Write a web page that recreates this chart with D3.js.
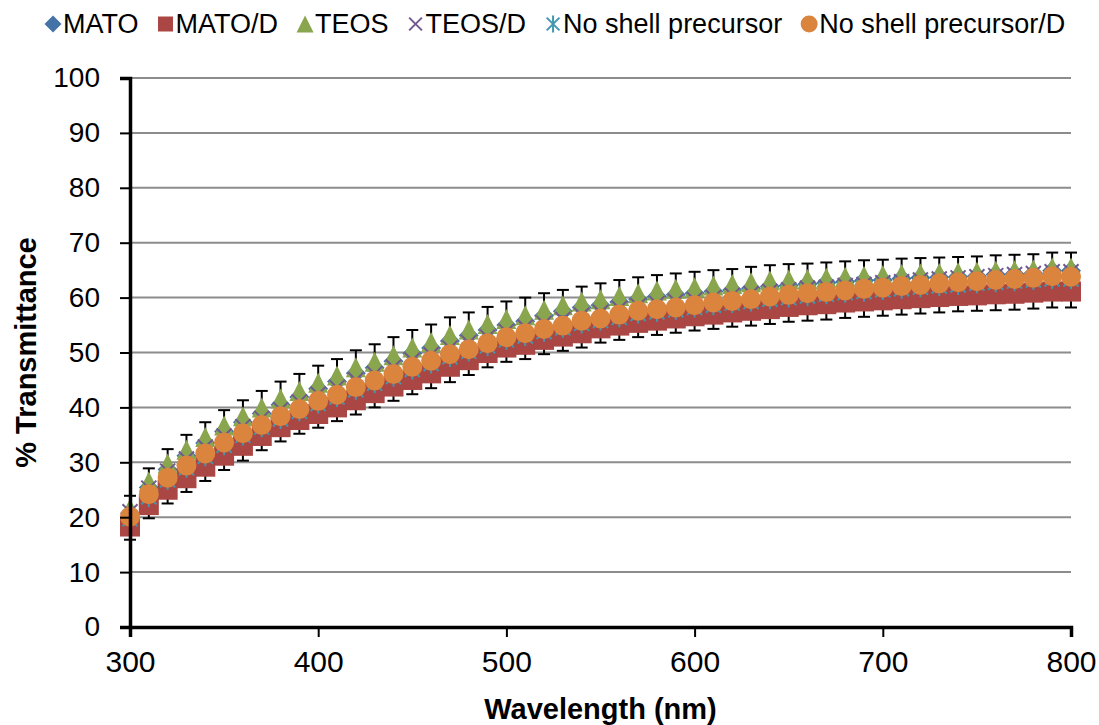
<!DOCTYPE html>
<html>
<head>
<meta charset="utf-8">
<script src="https://cdn.jsdelivr.net/npm/d3@7"></script>
<style>
  body { margin: 0; background: #fff; }
  svg { font-family: "Liberation Sans", Arial, sans-serif; }
</style>
</head>
<body>
<div id="chart"></div>
<script>
// wavelength (nm), one reading every 10 nm
const wavelengths = d3.range(300, 801, 10);

const mato = [20.7, 25.4, 28.7, 31.2, 33.5, 35.6, 37.3, 38.9, 40.5, 41.9, 43.4, 44.7, 46.2, 47.2, 48.4, 49.8, 50.8, 52.1, 53.1, 54.1, 55.0, 55.7, 56.7, 57.5, 58.2, 58.6, 59.2, 59.7, 60.2, 60.5, 60.8, 61.1, 61.4, 61.7, 62.0, 62.2, 62.5, 62.7, 62.9, 63.1, 63.2, 63.5, 63.6, 63.7, 63.8, 63.9, 64.2, 64.3, 64.4, 64.9, 64.9];
const matoD = [18.3, 22.2, 25.0, 27.1, 29.2, 31.2, 33.0, 34.8, 36.4, 37.7, 38.8, 40.0, 41.3, 42.6, 43.8, 45.0, 46.2, 47.4, 48.6, 49.9, 50.9, 51.4, 52.3, 52.9, 53.5, 54.4, 54.9, 55.4, 55.8, 56.2, 56.6, 56.9, 57.3, 57.6, 57.9, 58.3, 58.6, 58.8, 59.1, 59.3, 59.5, 59.7, 59.9, 60.1, 60.3, 60.4, 60.6, 60.7, 60.9, 61.1, 61.1];
const teos = [21.6, 26.5, 29.8, 32.3, 34.6, 36.7, 38.4, 40.0, 41.6, 43.0, 44.5, 45.8, 47.3, 48.3, 49.5, 50.9, 51.9, 53.2, 54.2, 55.2, 56.1, 56.8, 57.8, 58.6, 59.3, 59.7, 60.3, 60.8, 61.3, 61.6, 61.9, 62.2, 62.5, 62.8, 63.1, 63.3, 63.4, 63.6, 63.8, 64.0, 64.1, 64.3, 64.4, 64.5, 64.6, 64.7, 64.9, 65.0, 65.1, 65.5, 65.5];
const teosD = [21.0, 25.3, 28.4, 30.6, 32.8, 34.8, 36.5, 38.0, 39.6, 41.0, 42.4, 43.6, 45.0, 46.1, 47.3, 48.6, 49.6, 50.8, 51.8, 52.8, 53.8, 54.6, 55.3, 56.0, 56.8, 57.3, 58.0, 58.5, 58.9, 59.3, 59.6, 60.0, 60.4, 60.7, 61.1, 61.4, 61.7, 61.9, 62.2, 62.4, 62.7, 62.9, 63.2, 63.4, 63.6, 63.8, 64.0, 64.2, 64.4, 64.7, 64.7];
const noShell = [19.7, 23.7, 26.8, 29.0, 31.1, 33.1, 34.9, 36.4, 37.9, 39.3, 40.7, 41.9, 43.2, 44.4, 45.6, 46.9, 48.0, 49.2, 50.2, 51.2, 52.3, 53.0, 53.8, 54.5, 55.3, 55.8, 56.4, 57.1, 57.4, 57.8, 58.2, 58.6, 59.0, 59.3, 59.7, 60.0, 60.3, 60.6, 60.9, 61.1, 61.4, 61.6, 61.9, 62.1, 62.3, 62.6, 62.8, 63.0, 63.2, 63.4, 63.4];
const noShellD = [20.1, 24.2, 27.2, 29.4, 31.6, 33.6, 35.3, 36.8, 38.4, 39.7, 41.2, 42.3, 43.7, 44.9, 46.1, 47.4, 48.5, 49.7, 50.6, 51.7, 52.8, 53.5, 54.3, 54.9, 55.8, 56.2, 56.9, 57.6, 57.9, 58.2, 58.6, 59.1, 59.4, 59.7, 60.2, 60.5, 60.8, 61.0, 61.3, 61.6, 61.8, 62.1, 62.3, 62.6, 62.8, 63.0, 63.2, 63.4, 63.6, 63.9, 63.8];

// error bar half-widths
const errTeos = [2.3, 2.4, 2.6, 2.7, 2.7, 2.8, 2.9, 3.0, 3.1, 3.1, 3.1, 3.0, 3.1, 3.2, 3.3, 3.2, 3.2, 3.2, 3.1, 3.1, 3.2, 3.2, 3.0, 2.8, 2.7, 2.9, 2.9, 2.9, 2.8, 2.8, 2.8, 2.8, 2.7, 2.8, 2.8, 2.8, 2.8, 2.8, 2.8, 2.8, 2.8, 2.8, 2.8, 2.8, 2.8, 2.8, 2.8, 2.8, 2.8, 2.7, 2.7];
const errMatoD = [2.4, 2.4, 2.5, 2.5, 2.6, 2.6, 2.7, 2.6, 2.6, 2.5, 2.5, 2.5, 2.6, 2.6, 2.6, 2.6, 2.7, 2.8, 2.7, 2.6, 2.6, 2.6, 2.6, 2.6, 2.6, 2.6, 2.6, 2.6, 2.6, 2.6, 2.6, 2.6, 2.6, 2.7, 2.7, 2.7, 2.8, 2.8, 2.8, 2.8, 2.8, 2.8, 2.8, 2.8, 2.8, 2.8, 2.9, 2.9, 2.9, 2.9, 2.9];

const yTicks = d3.range(0, 101, 10);
const xTicks = [300, 400, 500, 600, 700, 800];

const series = [
  { name: "MATO", values: mato, err: null, color: "#4572A7", shape: "diamond" },
  { name: "MATO/D", values: matoD, err: errMatoD, color: "#AA4643", shape: "square" },
  { name: "TEOS", values: teos, err: errTeos, color: "#89A54E", shape: "triangle" },
  { name: "TEOS/D", values: teosD, err: null, color: "#71588F", shape: "x" },
  { name: "No shell precursor", values: noShell, err: null, color: "#4198AF", shape: "star" },
  { name: "No shell precursor/D", values: noShellD, err: null, color: "#DB843D", shape: "circle" }
];

const width = 1099, height = 725;
const margin = { top: 78, right: 28, bottom: 98, left: 130 };

const svg = d3.select("#chart").append("svg")
  .attr("width", width)
  .attr("height", height);

const x = d3.scaleLinear().domain([300, 800]).range([margin.left, width - margin.right]);
const y = d3.scaleLinear().domain([0, 100]).range([height - margin.bottom, margin.top]);

// gridlines
svg.append("g")
  .selectAll("line")
  .data(yTicks.filter(d => d > 0))
  .enter().append("line")
  .attr("x1", x(300)).attr("x2", x(800))
  .attr("y1", d => y(d)).attr("y2", d => y(d))
  .attr("stroke", "#8c8c8c")
  .attr("stroke-width", 2);

// marker shapes, drawn around (0,0)
function marker(g, shape, color, s) {
  const h = s / 2;
  if (shape === "diamond") {
    g.append("path").attr("d", `M0,${-h}L${h},0L0,${h}L${-h},0Z`).attr("fill", color);
  } else if (shape === "square") {
    g.append("rect").attr("x", -h).attr("y", -h).attr("width", s).attr("height", s).attr("fill", color);
  } else if (shape === "triangle") {
    g.append("path").attr("d", `M0,${-h}L${h},${h}L${-h},${h}Z`).attr("fill", color);
  } else if (shape === "circle") {
    g.append("circle").attr("r", h).attr("fill", color);
  } else if (shape === "x") {
    const k = h * 0.75;
    g.append("path").attr("d", `M${-k},${-k}L${k},${k}M${-k},${k}L${k},${-k}`)
      .attr("stroke", color).attr("stroke-width", 2).attr("fill", "none");
  } else if (shape === "star") {
    const k = h * 0.75;
    g.append("path").attr("d", `M${-k},${-k}L${k},${k}M${-k},${k}L${k},${-k}M0,${-h}L0,${h}`)
      .attr("stroke", color).attr("stroke-width", 2).attr("fill", "none");
  }
}

// error bars below all markers
const errLayer = svg.append("g");
series.filter(s => s.err).forEach(s => {
  const g = errLayer.selectAll(null)
    .data(wavelengths.map((w, i) => ({ w, v: s.values[i], e: s.err[i] })))
    .enter().append("g")
    .attr("stroke", "#000")
    .attr("stroke-width", 2);
  g.append("line")
    .attr("x1", d => x(d.w)).attr("x2", d => x(d.w))
    .attr("y1", d => y(d.v - d.e)).attr("y2", d => y(d.v + d.e));
  g.append("line")
    .attr("x1", d => x(d.w) - 6).attr("x2", d => x(d.w) + 6)
    .attr("y1", d => y(d.v + d.e)).attr("y2", d => y(d.v + d.e));
  g.append("line")
    .attr("x1", d => x(d.w) - 6).attr("x2", d => x(d.w) + 6)
    .attr("y1", d => y(d.v - d.e)).attr("y2", d => y(d.v - d.e));
});

// markers
series.forEach(s => {
  svg.append("g")
    .selectAll("g")
    .data(wavelengths.map((w, i) => ({ w, v: s.values[i] })))
    .enter().append("g")
    .attr("transform", d => `translate(${x(d.w)},${y(d.v)})`)
    .each(function() { marker(d3.select(this), s.shape, s.color, 20); });
});

// axes
const yAxis = svg.append("g")
  .attr("transform", `translate(${margin.left},0)`)
  .call(d3.axisLeft(y).tickValues(yTicks).tickSize(10).tickPadding(20));
const xAxis = svg.append("g")
  .attr("transform", `translate(0,${height - margin.bottom})`)
  .call(d3.axisBottom(x).tickValues(xTicks).tickSize(10).tickPadding(14));

[yAxis, xAxis].forEach(a => {
  a.select(".domain").attr("stroke", "#000").attr("stroke-width", 3.5);
  a.selectAll(".tick line").attr("stroke", "#000").attr("stroke-width", 2);
  a.selectAll("text").attr("fill", "#000").attr("font-family", "Liberation Sans, Arial, sans-serif");
});
yAxis.selectAll("text").attr("font-size", 28);
xAxis.selectAll("text").attr("font-size", 30);

// axis titles
svg.append("text")
  .attr("x", (x(300) + x(800)) / 2)
  .attr("y", 719)
  .attr("text-anchor", "middle")
  .attr("font-size", 29)
  .attr("font-weight", "bold")
  .text("Wavelength (nm)");

svg.append("text")
  .attr("transform", `translate(36,${(y(0) + y(100)) / 2}) rotate(-90)`)
  .attr("text-anchor", "middle")
  .attr("font-size", 29)
  .attr("font-weight", "bold")
  .text("% Transmittance");

// legend
const legend = svg.append("g");
let cx = 53;
series.forEach(s => {
  const item = legend.append("g").attr("transform", `translate(${cx},24)`);
  marker(item, s.shape, s.color, s.shape === "square" ? 15 : 17);
  const t = item.append("text")
    .attr("x", 10)
    .attr("y", 9)
    .attr("font-size", 27)
    .attr("fill", "#000")
    .text(s.name);
  cx += 10 + t.node().getComputedTextLength() + 27;
});
</script>
</body>
</html>
